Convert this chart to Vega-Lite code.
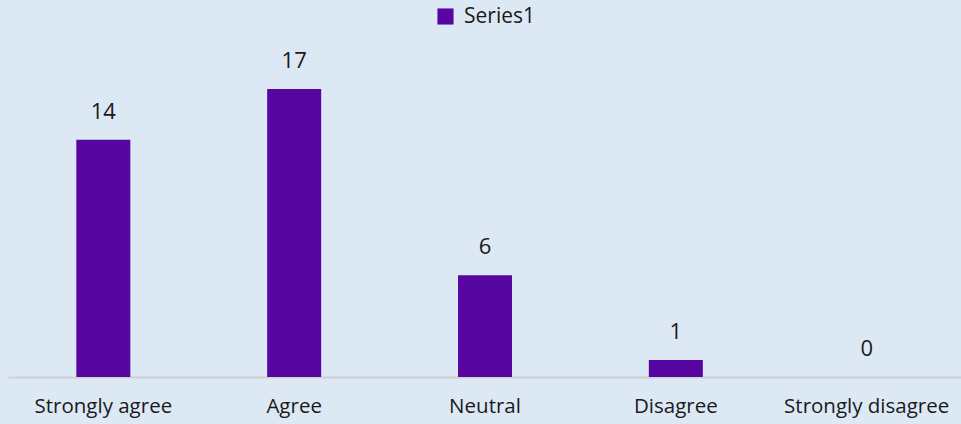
{
  "$schema": "https://vega.github.io/schema/vega-lite/v6.json",
  "width": 954,
  "height": 305,
  "autosize": {"type": "none"},
  "padding": {"left": 8, "top": 72, "right": 0, "bottom": 47},
  "background": "#DDE8F5",
  "config": {
    "view": {"stroke": null},
    "font": "Open Sans"
  },
  "data": {
    "values": [
      {"category": "Strongly agree", "value": 14, "series": "Series1"},
      {"category": "Agree", "value": 17, "series": "Series1"},
      {"category": "Neutral", "value": 6, "series": "Series1"},
      {"category": "Disagree", "value": 1, "series": "Series1"},
      {"category": "Strongly disagree", "value": 0, "series": "Series1"}
    ]
  },
  "encoding": {
    "x": {
      "field": "category",
      "type": "nominal",
      "sort": null,
      "scale": {"paddingInner": 0.717, "paddingOuter": 0.358},
      "axis": {
        "title": null,
        "labelAngle": 0,
        "labelFontSize": 20.5,
        "labelColor": "#1a1a1a",
        "labelPadding": 19,
        "ticks": false,
        "domainColor": "#D0D0D0",
        "domainWidth": 2,
        "grid": false
      }
    },
    "y": {
      "field": "value",
      "type": "quantitative",
      "scale": {"domain": [0, 18]},
      "axis": null
    }
  },
  "layer": [
    {
      "mark": {"type": "bar", "color": "#5706A1"},
      "encoding": {
        "color": {
          "field": "series",
          "type": "nominal",
          "scale": {"range": ["#5706A1"]},
          "legend": {
            "title": null,
            "orient": "none",
            "legendX": 427,
            "legendY": -66,
            "symbolType": "square",
            "symbolSize": 260,
            "labelFontSize": 21,
            "labelColor": "#1a1a1a",
            "labelOffset": 8,
            "symbolStrokeWidth": 0
          }
        }
      }
    },
    {
      "mark": {"type": "text", "baseline": "bottom", "dy": -16, "fontSize": 22, "color": "#1a1a1a"},
      "encoding": {
        "text": {"field": "value", "type": "quantitative"}
      }
    }
  ]
}
